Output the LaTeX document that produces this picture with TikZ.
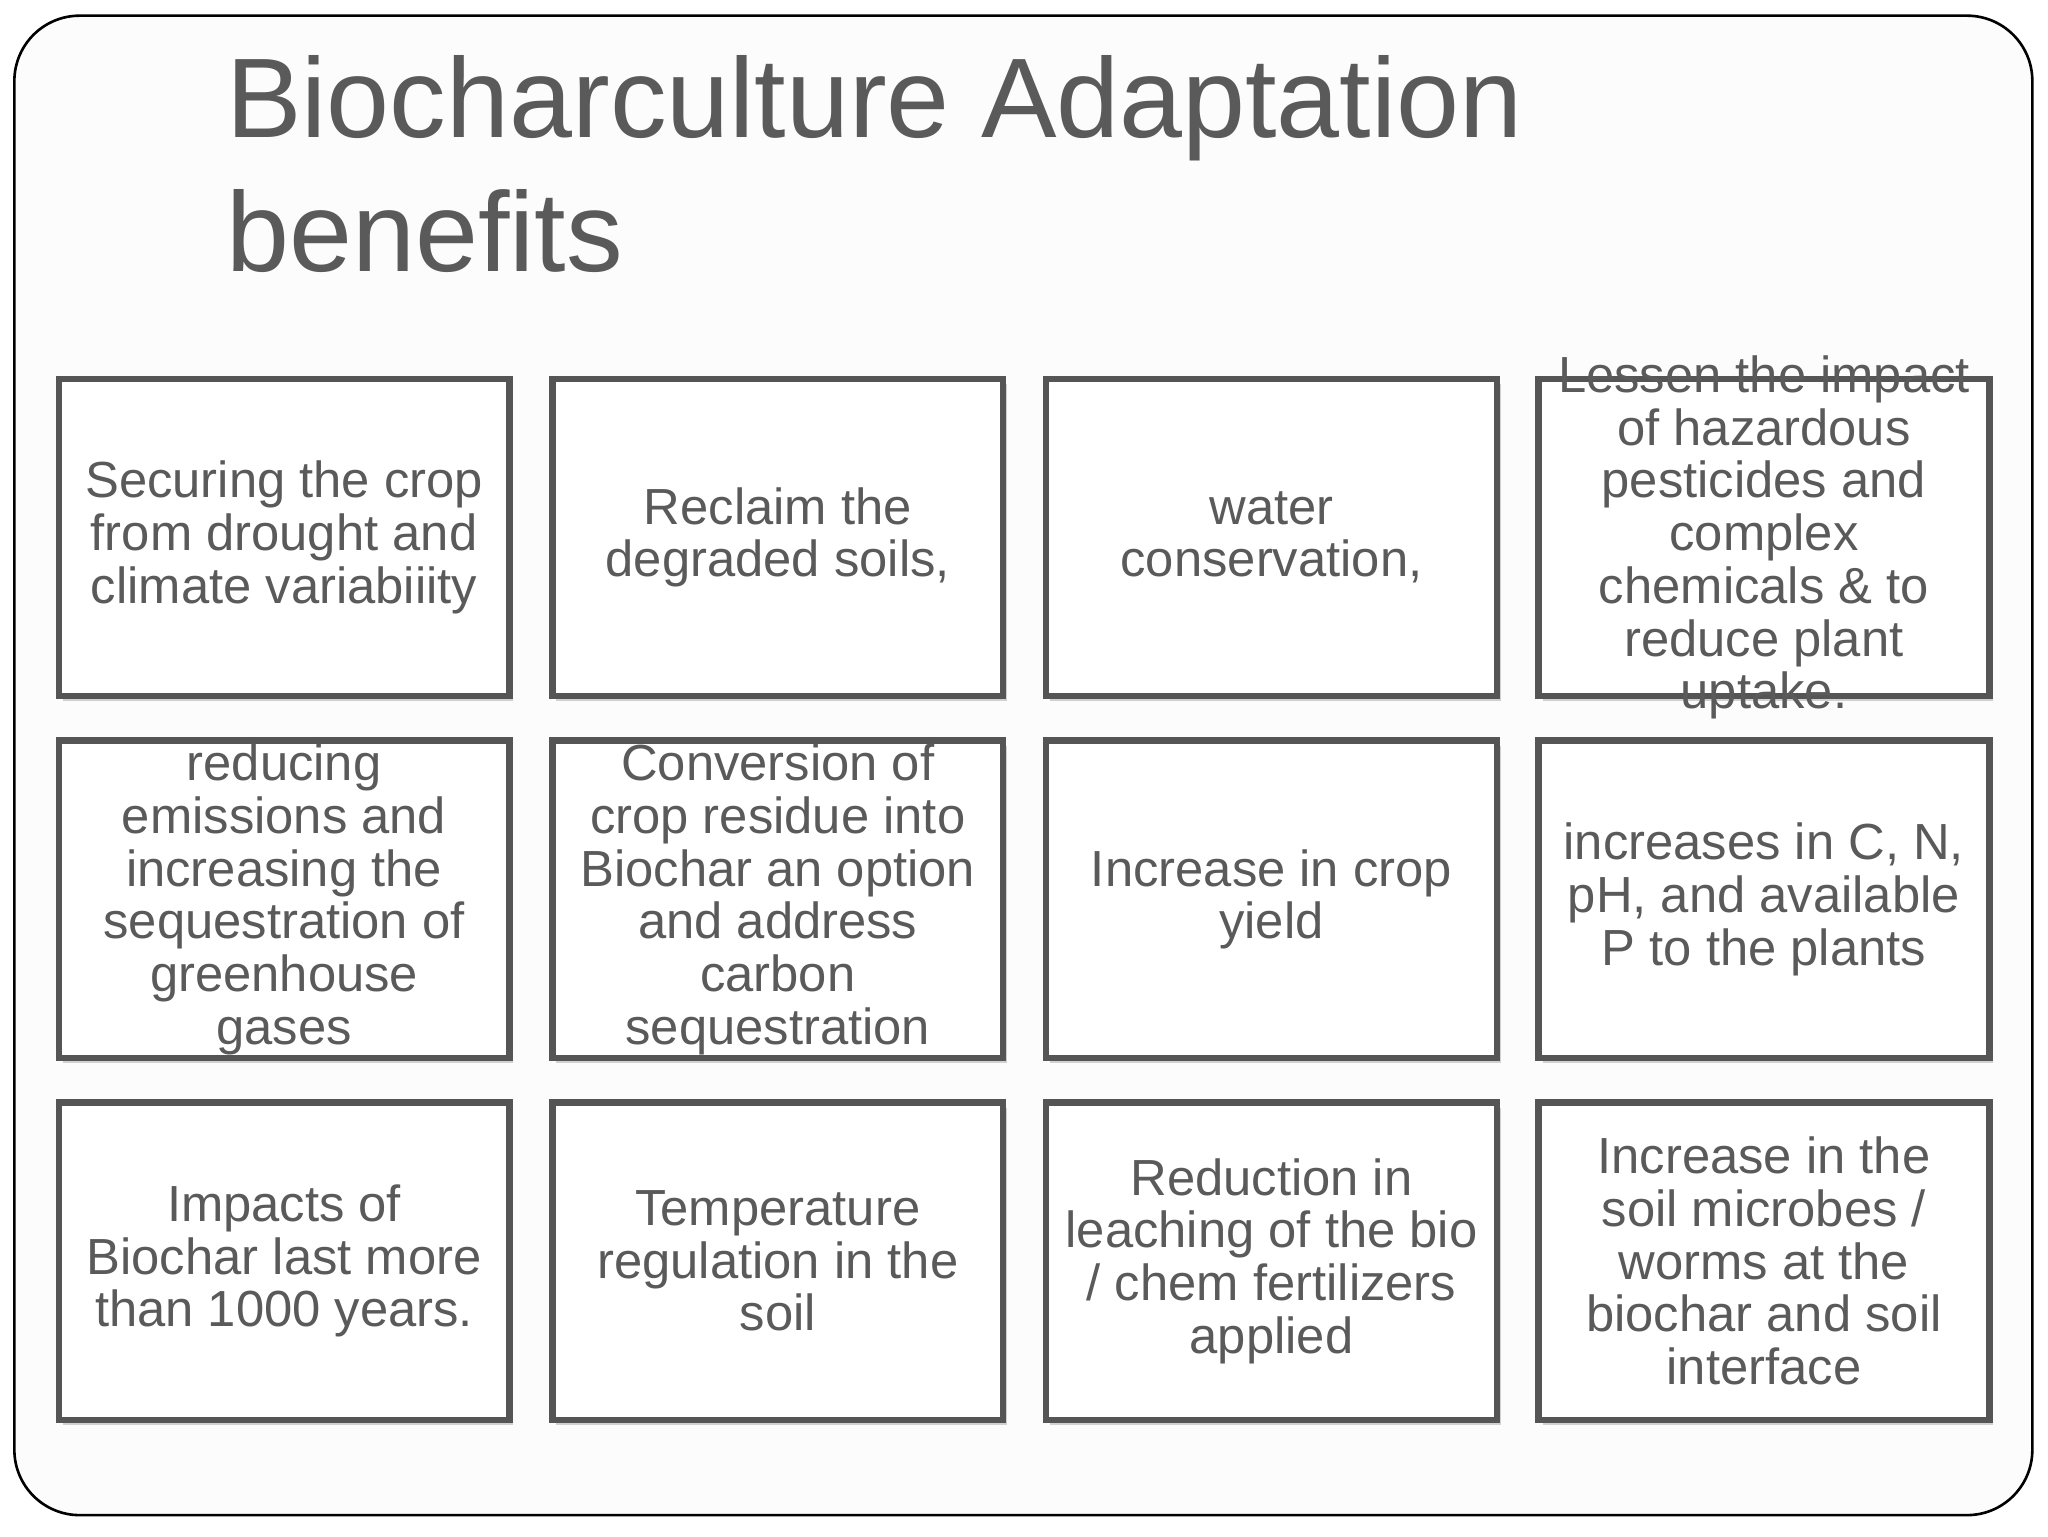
\documentclass[tikz,border=0pt]{standalone}
\usepackage{fontspec}
\setmainfont{Liberation Sans}
\definecolor{tg}{HTML}{5A5A5A}
\definecolor{bd}{HTML}{555555}
\begin{document}
\begin{tikzpicture}[x=1bp,y=-1bp,
  cell/.style={draw=bd,fill=white,line width=5bp,minimum width=345bp,minimum height=243bp,
    align=center,text=tg,inner sep=0pt,
    font=\fontsize{39}{40.5}\selectfont},
  txt/.style={align=center,text=tg,inner sep=0pt,font=\fontsize{39}{40.5}\selectfont},
  shadowbox/.style={fill=black!18,minimum width=345bp,minimum height=243bp,inner sep=0pt}]
\useasboundingbox (0,0) rectangle (1568,1176);
\fill[white] (0,0) rectangle (1568,1176);
\draw[line width=2bp,rounded corners=50bp,fill=black!1] (11,12) rectangle (1556,1160);
\node[anchor=base west,text=tg,font=\fontsize{87}{103}\selectfont,inner sep=0pt] (t1) at (173,105) {Biocharculture Adaptation};
\node[anchor=base west,text=tg,font=\fontsize{87}{103}\selectfont,inner sep=0pt] (t2) at (173,208) {benefits};
\foreach \x in {217.5,595.5,973.5,1350.5}{
  \foreach \y in {411.5,688.5,965.5}{
    \node[shadowbox] at (\x+3,\y+4) {};
  }}
\node[cell] (a1) at (217.5,411.5) {Securing the crop\\from drought and\\climate variabiiity};
\node[cell] (a2) at (595.5,411.5) {Reclaim the\\degraded soils,};
\node[cell] (a3) at (973.5,411.5) {water\\conservation,};
\node[cell] (a4) at (1350.5,411.5) {};
\node[txt] (a4t) at (a4.center) {Lessen the impact\\of hazardous\\pesticides and\\complex\\chemicals \& to\\reduce plant\\uptake.};
\node[cell] (b1) at (217.5,688.5) {reducing\\emissions and\\increasing the\\sequestration of\\greenhouse\\gases};
\node[cell] (b2) at (595.5,688.5) {Conversion of\\crop residue into\\Biochar an option\\and address\\carbon\\sequestration};
\node[cell] (b3) at (973.5,688.5) {Increase in crop\\yield};
\node[cell] (b4) at (1350.5,688.5) {increases in C, N,\\pH, and available\\P to the plants};
\node[cell] (c1) at (217.5,965.5) {Impacts of\\Biochar last more\\than 1000 years.};
\node[cell] (c2) at (595.5,965.5) {Temperature\\regulation in the\\soil};
\node[cell] (c3) at (973.5,965.5) {Reduction in\\leaching of the bio\\/ chem fertilizers\\applied};
\node[cell] (c4) at (1350.5,965.5) {Increase in the\\soil microbes /\\worms at the\\biochar and soil\\interface};
\end{tikzpicture}
\end{document}
